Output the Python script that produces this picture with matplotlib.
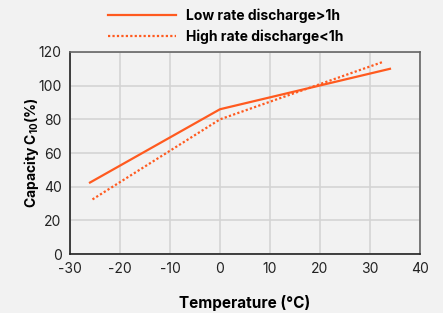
import matplotlib.pyplot as plt

plt.rcParams['font.family'] = ['Inter', 'DejaVu Sans']
plt.rcParams['mathtext.fontset'] = 'custom'
plt.rcParams['mathtext.rm'] = 'Inter:bold'
plt.rcParams['mathtext.bf'] = 'Inter:bold'
plt.rcParams['axes.unicode_minus'] = False

temp_low = [-26, 0, 34]
cap_low = [42.5, 86, 110]
temp_high = [-25.5, 0, 32.5]
cap_high = [32.5, 80, 114]

x_ticks = [-30, -20, -10, 0, 10, 20, 30, 40]
y_ticks = [0, 20, 40, 60, 80, 100, 120]

orange = '#ff5a1f'
bg = '#f2f2f2'

fig = plt.figure(figsize=(4.43, 3.13), dpi=100, facecolor=bg)
ax = fig.add_axes([0.158, 0.188, 0.79, 0.646], facecolor=bg)

ax.plot(temp_low, cap_low, color=orange, lw=1.6, label='Low rate discharge>1h')
ax.plot(temp_high, cap_high, color=orange, lw=1.6, ls=(0, (1, 1)), label='High rate discharge<1h')

ax.set_xlim(-30, 40)
ax.set_ylim(0, 120)
ax.set_xticks(x_ticks)
ax.set_yticks(y_ticks)
ax.grid(True, color='#d4d4d4', lw=1.2)
ax.set_axisbelow(True)
ax.tick_params(length=0, labelsize=10, colors='#222222', pad=6)

for s in ['top', 'right']:
    ax.spines[s].set_color('#666666')
    ax.spines[s].set_linewidth(1.2)
for s in ['left', 'bottom']:
    ax.spines[s].set_color('#222222')
    ax.spines[s].set_linewidth(1.2)

ax.set_xlabel('Temperature (°C)', fontsize=11, fontweight='bold', labelpad=13)
ax.set_ylabel('Capacity C$_{10}$(%)', fontsize=10, fontweight='bold', labelpad=-2)

fig.legend(loc='upper left', bbox_to_anchor=(0.225, 1.0), frameon=False,
           prop={'weight': 'bold', 'size': 10}, handlelength=4.9,
           handletextpad=0.7, labelspacing=0.5, borderaxespad=0.2)

fig.savefig('out.png', dpi=100, facecolor=bg)
